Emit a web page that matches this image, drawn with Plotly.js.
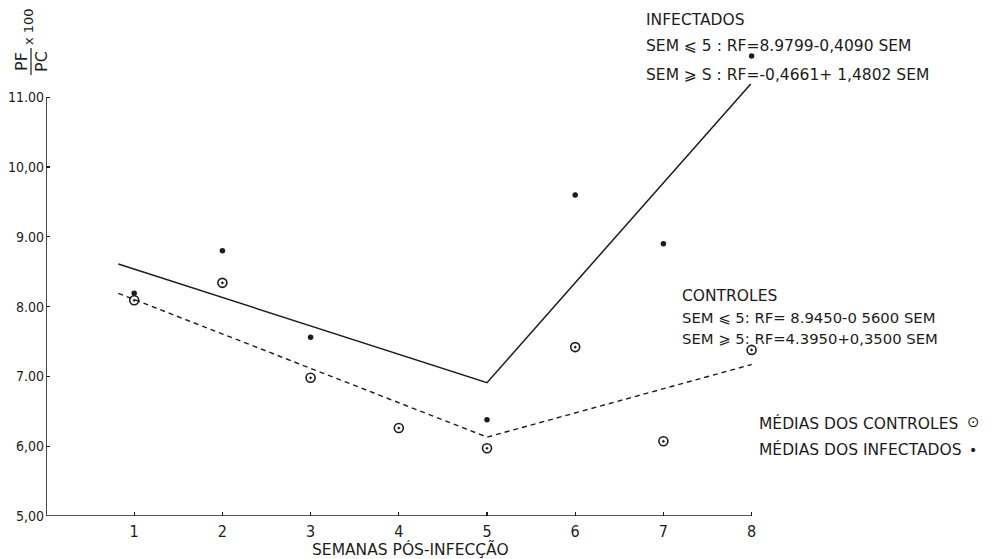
<!DOCTYPE html>
<html>
<head>
<meta charset="utf-8">
<script src="https://cdn.plot.ly/plotly-3.0.1.min.js"></script>
<style>
  html, body { margin: 0; padding: 0; background: #fff; }
  #chart { width: 998px; height: 559px; }
</style>
</head>
<body>
<div id="chart"></div>
<script>
// Weeks after infection
const weeks = [1, 2, 3, 4, 5, 6, 7, 8];

// Mean PF/PC x 100 per week
const controlMeans = [8.09, 8.34, 6.98, 6.26, 5.97, 7.42, 6.07, 7.38];
const infectedMeans = [8.19, 8.80, 7.56, null, 6.38, 9.60, 8.90, 11.59];

// Fitted segmented regression lines (break at week 5)
const infectedFitX = [0.82, 5, 7.99];
const infectedFitY = [8.61, 6.91, 11.19];
const controlFitX = [0.82, 5, 8.0];
const controlFitY = [8.19, 6.13, 7.17];

// Axis ticks
const xTickVals = [1, 2, 3, 4, 5, 6, 7, 8];
const xTickText = ['1', '2', '3', '4', '5', '6', '7', '8'];
const yTickVals = [5, 6, 7, 8, 9, 10, 11];
const yTickText = ['5,00', '6,00', '7.00', '8.00', '9.00', '10,00', '11.00'];

const ink = '#1c1c1c';
const txtFont = 'DejaVu Sans, sans-serif';
const numFont = 'DejaVu Sans Condensed, DejaVu Sans, sans-serif';

// plot area geometry (pixels) used to place free text
const W = 998, H = 559, L = 46, R = 0, T = 6, B = 43;
const pw = W - L - R, ph = H - T - B;
const px = x => (x - L) / pw;
const py = y => (H - B - y) / ph;

const traces = [
  {
    x: infectedFitX, y: infectedFitY, mode: 'lines', type: 'scatter',
    line: { color: ink, width: 1.5 }, hoverinfo: 'skip'
  },
  {
    x: controlFitX, y: controlFitY, mode: 'lines', type: 'scatter',
    line: { color: ink, width: 1.4, dash: '5px,4px' }, hoverinfo: 'skip'
  },
  {
    x: weeks, y: controlMeans, mode: 'markers', type: 'scatter',
    marker: { symbol: 'circle-open-dot', size: 9, color: ink, line: { width: 1.6, color: ink } }
  },
  {
    x: weeks, y: infectedMeans, mode: 'markers', type: 'scatter',
    marker: { symbol: 'circle', size: 5.5, color: ink }
  }
];

function note(text, x, y, size, extra) {
  return Object.assign({
    text: text, xref: 'paper', yref: 'paper', x: px(x), y: py(y),
    xanchor: 'left', yanchor: 'middle', showarrow: false,
    font: { family: txtFont, size: size, color: ink }
  }, extra || {});
}

const annotations = [
  note('INFECTADOS', 644, 20, 15.5),
  note('SEM ⩽ 5 : RF=8.9799-0,4090 SEM', 644, 46, 15.5),
  note('SEM ⩾ S : RF=-0,4661+ 1,4802 SEM', 644, 75, 15.5),
  note('CONTROLES', 680, 296, 15.5),
  note('SEM ⩽ 5: RF= 8.9450-0 5600 SEM', 680, 317, 14.8),
  note('SEM ⩾ 5: RF=4.3950+0,3500 SEM', 680, 338, 14.8),
  note('MÉDIAS DOS CONTROLES', 757, 423, 15.5),
  note('MÉDIAS DOS INFECTADOS', 757, 449, 15.5),
  note('⊙', 965, 422, 14, { font: { family: 'DejaVu Sans', size: 15, color: ink } }),
  note('•', 967, 450, 14, { font: { family: 'DejaVu Sans', size: 14, color: ink } }),
  // x axis title
  note('SEMANAS PÓS-INFECÇÃO', 410, 549, 15.5, { xanchor: 'center' }),
  // y axis title: PF / PC x 100
  note('PF', 21, 62, 16, { xanchor: 'center', textangle: -90 }),
  note('PC', 41, 62, 16, { xanchor: 'center', textangle: -90 }),
  note('x 100', 29, 27, 13, { xanchor: 'center', textangle: -90 })
];

const shapes = [
  // axis lines: x from 0 to 8, y from 5 to 11
  { type: 'line', xref: 'x', yref: 'y', x0: 0, x1: 8, y0: 5, y1: 5, line: { color: ink, width: 1.6 } },
  { type: 'line', xref: 'x', yref: 'y', x0: 0, x1: 0, y0: 5, y1: 11, line: { color: ink, width: 1.6 } },
  // fraction bar of the y title
  { type: 'line', xref: 'paper', yref: 'paper', x0: px(31), x1: px(31), y0: py(48), y1: py(75), line: { color: ink, width: 1.2 } }
];

const layout = {
  width: W, height: H,
  margin: { l: L, r: R, t: T, b: B },
  paper_bgcolor: '#fff', plot_bgcolor: '#fff',
  showlegend: false,
  xaxis: {
    range: [0, pw / 88.2], showgrid: false, zeroline: false, showline: false,
    tickmode: 'array', tickvals: xTickVals, ticktext: xTickText,
    ticks: 'inside', ticklen: 4, tickwidth: 1.3, tickcolor: ink,
    ticklabelstandoff: 4,
    tickfont: { family: numFont, size: 16, color: ink }
  },
  yaxis: {
    range: [5, 5 + ph / 69.8], showgrid: false, zeroline: false, showline: false,
    tickmode: 'array', tickvals: yTickVals, ticktext: yTickText,
    ticks: 'inside', ticklen: 4, tickwidth: 1.3, tickcolor: ink,
    ticklabelstandoff: 1,
    tickfont: { family: numFont, size: 14, color: ink }
  },
  annotations: annotations,
  shapes: shapes
};

Plotly.newPlot('chart', traces, layout, { staticPlot: true });
</script>
</body>
</html>
